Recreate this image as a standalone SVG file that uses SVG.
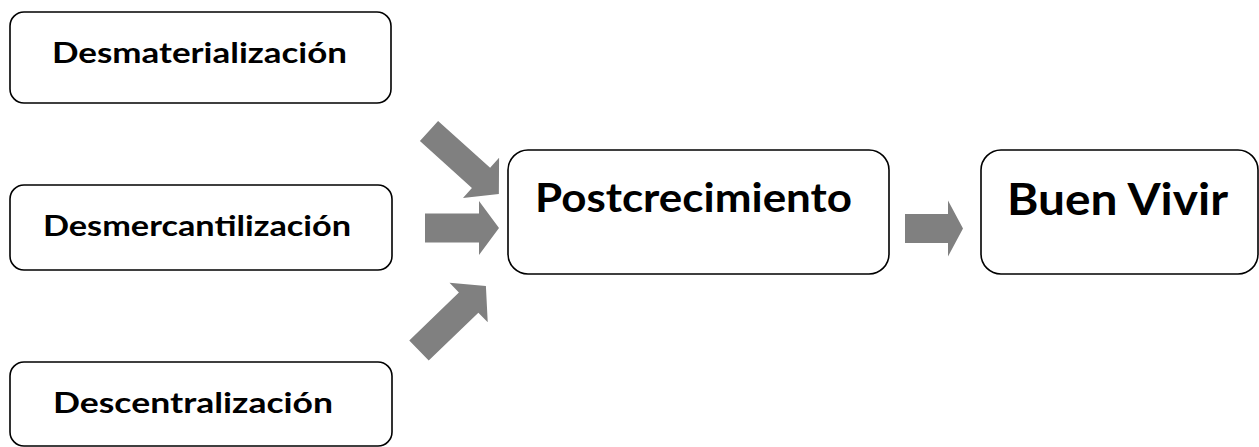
<svg xmlns="http://www.w3.org/2000/svg" width="1259" height="447" viewBox="0 0 1259 447">
<style>
.box{fill:#fff;stroke:#000;stroke-width:1.6}
.t{font-family:Lato,"Open Sans","Liberation Sans",sans-serif;font-weight:bold;fill:#000}
.s{font-size:28.5px}
.arr{fill:#808080}
</style>
<rect width="1259" height="447" fill="#fff"/>
<g id="desmaterializacion">
<rect class="box" x="10" y="12" width="381" height="91" rx="14"/>
<text class="t s" x="52" y="62.5" textLength="295" lengthAdjust="spacingAndGlyphs">Desmaterialización</text>
</g>
<g id="desmercantilizacion">
<rect class="box" x="10" y="185" width="382" height="85" rx="14"/>
<text class="t s" x="43" y="235.5" textLength="308" lengthAdjust="spacingAndGlyphs">Desmercantilización</text>
</g>
<g id="descentralizacion">
<rect class="box" x="10" y="362" width="382" height="84" rx="14"/>
<text class="t s" x="53" y="412.5" textLength="280" lengthAdjust="spacingAndGlyphs">Descentralización</text>
</g>
<g id="postcrecimiento">
<rect class="box" x="508" y="150" width="381" height="124" rx="20"/>
<text class="t" x="535" y="211.5" font-size="39.5" textLength="317" lengthAdjust="spacingAndGlyphs">Postcrecimiento</text>
</g>
<g id="buen-vivir">
<rect class="box" x="981" y="150" width="277" height="124" rx="20"/>
<text class="t" x="1007" y="215" font-size="44" textLength="221" lengthAdjust="spacingAndGlyphs">Buen Vivir</text>
</g>
<g id="connectors">
<polygon class="arr" transform="translate(429,131) rotate(42)" points="0,-13.6 70,-13.6 70,-27 94,0 70,27 70,13.6 0,13.6"/>
<polygon class="arr" transform="translate(425,228)" points="0,-14.5 54,-14.5 54,-27 74,0 54,27 54,14.5 0,14.5"/>
<polygon class="arr" transform="translate(419,350.5) rotate(-44)" points="0,-14 69,-14 69,-27.5 93,0 69,27.5 69,14 0,14"/>
<polygon class="arr" transform="translate(905,228.5)" points="0,-14.5 43,-14.5 43,-28 58,0 43,28 43,14.5 0,14.5"/>
</g>
</svg>
